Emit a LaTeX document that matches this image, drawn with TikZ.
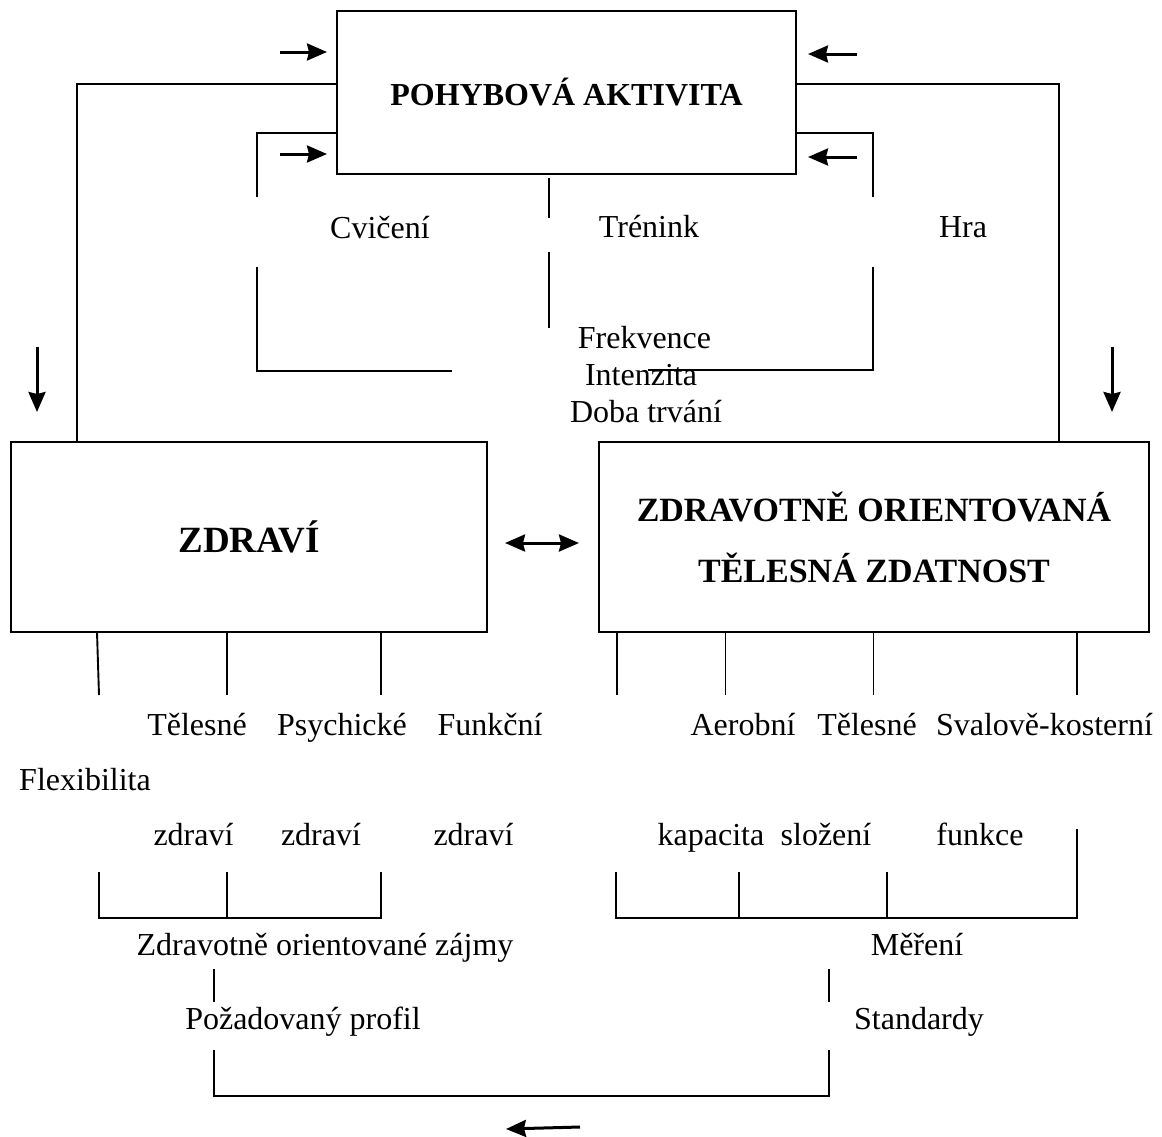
\documentclass[tikz,border=0pt]{standalone}
\usepackage{fontspec}
\setmainfont{Liberation Serif}
\usetikzlibrary{arrows.meta}
\begin{document}
\begin{tikzpicture}[x=1pt,y=-1pt,
  box/.style={draw,line width=2.6pt,inner sep=0pt,outer sep=0pt},
  lbl/.style={anchor=base,inner sep=0pt,font=\fontsize{32}{38}\selectfont},
  conn/.style={line width=1.9pt},
  tip/.style={Stealth[length=20pt,width=17pt,inset=2pt]},
  arr/.style={line width=3pt,-{Stealth[length=20pt,width=17pt,inset=2pt]}},
  darr/.style={line width=3pt,{Stealth[length=20pt,width=17pt,inset=2pt]}-{Stealth[length=20pt,width=17pt,inset=2pt]}}]
\useasboundingbox (0,0) rectangle (1162,1136);

% boxes
\node[box,minimum width=459pt,minimum height=163pt,font=\bfseries\fontsize{32}{38}\selectfont] (pa) at (566.5,92.5) {POHYBOVÁ AKTIVITA};
\node[box,minimum width=476pt,minimum height=190pt,font=\bfseries\fontsize{37}{44}\selectfont] (zd) at (249,537) {ZDRAVÍ};
\node[box,minimum width=550pt,minimum height=190pt,align=center,font=\bfseries\fontsize{34}{61}\selectfont] (zotz) at (874,537) {ZDRAVOTNĚ ORIENTOVANÁ\\TĚLESNÁ ZDATNOST};

% outer connectors
\coordinate (ol) at (77,84);
\draw[conn] (pa.west |- ol) -- (ol) -- (ol |- zd.north);
\coordinate (or) at (1059,84);
\draw[conn] (pa.east |- or) -- (or) -- (or |- zotz.north);

% inner brackets
\coordinate (il) at (257,133);
\coordinate (ilg) at (257,197);
\draw[conn] (pa.west |- il) -- (il) -- (ilg);
\coordinate (il2) at (257,267);
\coordinate (il3) at (257,371);
\coordinate (il4) at (452,371);
\draw[conn] (il2) -- (il3) -- (il4);
\coordinate (ir) at (873,133);
\coordinate (irg) at (873,197);
\draw[conn] (pa.east |- ir) -- (ir) -- (irg);
\coordinate (ir2) at (873,267);
\coordinate (ir3) at (873,370);
\coordinate (ir4) at (648,370);
\draw[conn] (ir2) -- (ir3) -- (ir4);
\coordinate (c1) at (549,218);
\draw[conn] (pa.south -| c1) ++(0,4) -- (c1);
\coordinate (c2) at (549,252);
\coordinate (c3) at (549,328);
\draw[conn] (c2) -- (c3);

% arrows at top box
\coordinate (la1) at (280,52);
\coordinate (lb1) at (327,52);
\draw[arr] (la1) -- (lb1);
\coordinate (la2) at (280,154);
\coordinate (lb2) at (327,154);
\draw[arr] (la2) -- (lb2);
\coordinate (ra1) at (857,54);
\coordinate (rb1) at (808,54);
\draw[arr] (ra1) -- (rb1);
\coordinate (ra2) at (857,157);
\coordinate (rb2) at (808,157);
\draw[arr] (ra2) -- (rb2);

% down arrows
\coordinate (da1) at (37,347);
\coordinate (db1) at (37,412);
\draw[arr] (da1) -- (db1);
\coordinate (da2) at (1112,347);
\coordinate (db2) at (1112,412);
\draw[arr] (da2) -- (db2);

% double arrow
\coordinate (dd1) at (505,543);
\coordinate (dd2) at (579,543);
\draw[darr] (dd1) -- (dd2);

% labels upper
\node[lbl] (cv) at (380,238) {Cvičení};
\node[lbl] (tr) at (649,237) {Trénink};
\node[lbl] (hr) at (963,237) {Hra};
\node[lbl] (fr) at (644.5,348) {Frekvence};
\node[lbl] (in) at (641,385) {Intenzita};
\node[lbl] (db) at (646,422) {Doba trvání};

% ticks under ZDRAVÍ
\draw[conn] (zd.south -| 97,0) -- (99,695);
\draw[conn] (zd.south -| 227,0) -- (227,695);
\draw[conn] (zd.south -| 381,0) -- (381,695);
% ticks under ZOTZ
\draw[conn] (zotz.south -| 617,0) -- (617,695);
\draw[conn] (zotz.south -| 725.5,0) -- (725.5,695);
\draw[conn] (zotz.south -| 873.5,0) -- (873.5,695);
\draw[conn] (zotz.south -| 1077,0) -- (1077,695);

% labels middle
\node[lbl] (t1) at (197,735) {Tělesné};
\node[lbl] (ps) at (342,735) {Psychické};
\node[lbl] (fu) at (490,735) {Funkční};
\node[lbl] (ae) at (743,735) {Aerobní};
\node[lbl] (t2) at (867,735) {Tělesné};
\node[lbl] (sk) at (1044.5,735) {Svalově-kosterní};
\node[lbl] (fl) at (85,790) {Flexibilita};
\node[lbl] (z1) at (193.5,845) {zdraví};
\node[lbl] (z2) at (321,845) {zdraví};
\node[lbl] (z3) at (473.5,845) {zdraví};
\node[lbl] (ka) at (711,845) {kapacita};
\node[lbl] (sl) at (826,845) {složení};
\node[lbl] (fk) at (980,845) {funkce};

% brackets
\draw[conn] (99,872) -- (99,918) -- (381,918) -- (381,872);
\draw[conn] (227,872) -- (227,918);
\draw[conn] (616,872) -- (616,918) -- (1077,918) -- (1077,829);
\draw[conn] (739,872) -- (739,918);
\draw[conn] (887,872) -- (887,918);

% lower labels
\node[lbl] (zoz) at (325,955) {Zdravotně orientované zájmy};
\node[lbl] (me) at (917,955) {Měření};
\draw[conn] (214,969) -- (214,1002);
\draw[conn] (829,969) -- (829,1002);
\node[lbl] (pp) at (303,1029) {Požadovaný profil};
\node[lbl] (st) at (919,1029) {Standardy};

% bottom bracket
\draw[conn] (214,1050) -- (214,1096) -- (829,1096) -- (829,1050);
\coordinate (ba1) at (580,1127);
\coordinate (bb1) at (506,1129);
\draw[arr] (ba1) -- (bb1);
\end{tikzpicture}
\end{document}
